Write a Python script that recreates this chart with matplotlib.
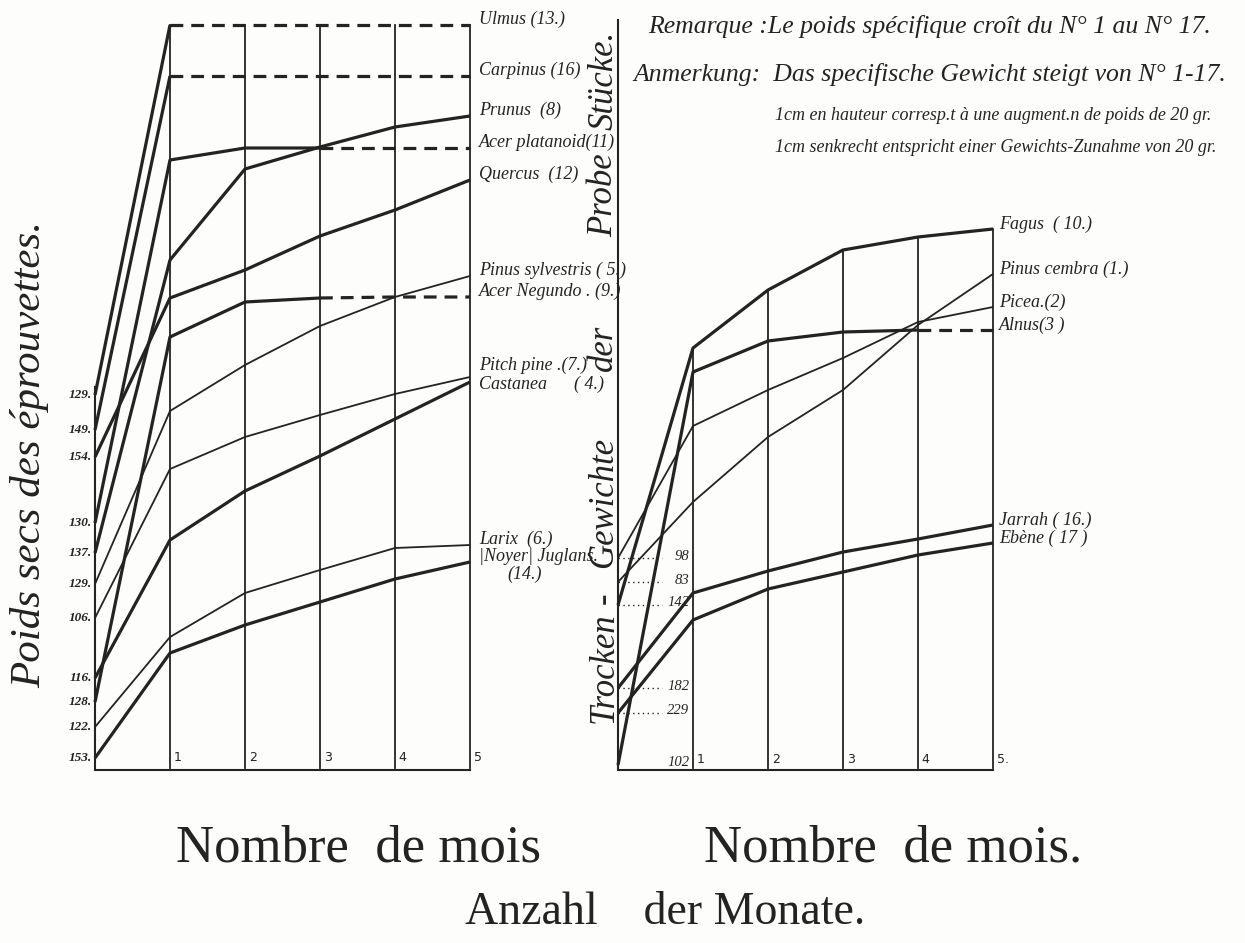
import numpy as np
import matplotlib.pyplot as plt

# months on the x axis (0 = start of the test)
months = [0, 1, 2, 3, 4, 5]

# left chart: height of each curve above the base line (1 unit = 1 px of the original plate)
left_names = ['Ulmus (13.)', 'Carpinus (16)', 'Acer platanoid(11)', 'Prunus  (8)', 'Quercus  (12)',
              'Pinus sylvestris ( 5.)', 'Acer Negundo . (9.)', 'Pitch pine .(7.)', 'Castanea      ( 4.)',
              'Larix  (6.)', '|Noyer| Juglans.']
left_values = [
    [373, 743, 743, 743, 743, 743],
    [338, 692, 692, 692, 692, 692],
    [245, 608, 620, 620, 620, 620],
    [215, 508, 599, 621, 641, 652],
    [311, 470, 498, 532, 558, 588],
    [184, 357, 403, 442, 471, 492],
    [66, 431, 466, 470, 471, 471],
    [150, 299, 331, 353, 374, 391],
    [90, 228, 277, 312, 349, 386],
    [41, 131, 175, 198, 220, 223],
    [10, 115, 143, 166, 189, 206],
]
left_start = ['129.', '149.', '130.', '137.', '154.', '129.', '128.', '106.', '116.', '122.', '153.']
left_dash_from = [1, 1, 3, None, None, None, 3, None, None, None, None]
left_thick = [True, True, True, True, True, False, True, False, True, False, True]

# right chart
right_names = ['Fagus  ( 10.)', 'Pinus cembra (1.)', 'Picea.(2)', 'Alnus(3 )', 'Jarrah ( 16.)', 'Ebène ( 17 )']
right_values = [
    [163, 420, 478, 518, 531, 539],
    [186, 266, 331, 378, 443, 494],
    [210, 342, 378, 410, 446, 461],
    [3, 396, 427, 436, 438, 438],
    [80, 175, 197, 216, 229, 243],
    [55, 148, 179, 196, 213, 225],
]
right_start = ['142', '83', '98', '102', '182', '229']
right_dash_from = [None, None, None, 4, None, None]
right_thick = [True, False, False, True, True, True]

# words of the vertical title between the two charts, with the height of their centres
mid_words = ['Trocken', '-', 'Gewichte', 'der', 'Probe', 'Stücke.']
mid_heights = [100, 170, 266, 420, 573, 688]

INK = '#232323'
W, H = 1245, 943
fig = plt.figure(figsize=(12.45, 9.43), dpi=100)
fig.patch.set_facecolor('#fdfdfb')


def make_axes(x0, x1, ytop, ybot):
    ax = fig.add_axes([x0 / W, 1 - ybot / H, (x1 - x0) / W, (ybot - ytop) / H])
    ax.set_xlim(0, 5)
    ax.set_ylim(0, ybot - ytop)
    ax.axis('off')
    return ax


def draw_curve(ax, vals, dash_from, thick):
    lw = 2.3 if thick else 1.3
    end = len(months) if dash_from is None else dash_from + 1
    ax.plot(months[:end], vals[:end], color=INK, lw=lw, clip_on=False, solid_capstyle='butt')
    if dash_from is not None:
        ax.plot(months[dash_from:], vals[dash_from:], color=INK, lw=2.3, ls=(0, (4, 2.5)), clip_on=False)


def draw_grid(ax, values, top_of_axis):
    values = np.array(values)
    tops = values.max(axis=0)
    for m in months[1:]:
        ax.plot([m, m], [0, tops[m]], color=INK, lw=1.3, clip_on=False)
    ax.plot([0, 0], [0, top_of_axis], color=INK, lw=1.5, clip_on=False)
    ax.plot([0, 5], [-2, -2], color=INK, lw=1.5, clip_on=False)


italic = dict(family='Liberation Serif', style='italic', color=INK)

# ---- left chart
axl = make_axes(95, 470, 20, 768)
draw_grid(axl, left_values, max(v[0] for v in left_values) + 8)
for vals, dash, thick in zip(left_values, left_dash_from, left_thick):
    draw_curve(axl, vals, dash, thick)
for vals, lab in zip(left_values, left_start):
    axl.text(-0.04, vals[0], lab, ha='right', va='center', fontsize=9.5, fontweight='bold', **italic)
nudge = {7: 12, 8: -2}
for i, (vals, name) in enumerate(zip(left_values, left_names)):
    axl.text(5.12, vals[-1] + nudge.get(i, 6), name, ha='left', va='center', fontsize=13, **italic)
axl.text(5.5, left_values[-1][-1] - 12, '(14.)', ha='left', va='center', fontsize=13, **italic)
for m in months[1:]:
    axl.text(m + 0.05, 4, str(m), ha='left', va='bottom', fontsize=9, family='DejaVu Sans', color=INK)

# ---- right chart
axr = make_axes(618, 993, 20, 768)
draw_grid(axr, right_values, 748)
for vals, dash, thick in zip(right_values, right_dash_from, right_thick):
    draw_curve(axr, vals, dash, thick)
for vals, lab in zip(right_values, right_start):
    if lab != '102':
        axr.plot([0, 0.58], [vals[0], vals[0]], color=INK, lw=1.0, ls=(0, (1, 2.5)), clip_on=False)
    axr.text(0.95, vals[0] + 2, lab, ha='right', va='center', fontsize=10.5, **italic)
for vals, name in zip(right_values, right_names):
    axr.text(5.08, vals[-1] + 5, name, ha='left', va='center', fontsize=13, **italic)
for m in months[1:]:
    axr.text(m + 0.05, 2, str(m) + ('.' if m == 5 else ''), ha='left', va='bottom', fontsize=9,
             family='DejaVu Sans', color=INK)

# ---- axis titles and notes
fig.text(30 / W, 1 - 455 / H, 'Poids secs des éprouvettes.', rotation=90, ha='center', va='center',
         fontsize=31, **italic)
for word, h in zip(mid_words, mid_heights):
    axr.text(-0.19, h, word, rotation=90, ha='center', va='center', fontsize=25, **italic)

fig.text(358 / W, 1 - 848 / H, 'Nombre  de mois', ha='center', va='center', fontsize=38,
         family='Liberation Serif', color=INK)
fig.text(893 / W, 1 - 848 / H, 'Nombre  de mois.', ha='center', va='center', fontsize=38,
         family='Liberation Serif', color=INK)
fig.text(665 / W, 1 - 913 / H, 'Anzahl    der Monate.', ha='center', va='center', fontsize=33,
         family='Liberation Serif', color=INK)

fig.text(648 / W, 1 - 27 / H, 'Remarque :Le poids spécifique croît du N° 1 au N° 17.', ha='left',
         va='center', fontsize=18.5, **italic)
fig.text(633 / W, 1 - 75 / H, 'Anmerkung:  Das specifische Gewicht steigt von N° 1-17.', ha='left',
         va='center', fontsize=18.5, **italic)
fig.text(775 / W, 1 - 115 / H, '1cm en hauteur corresp.t à une augment.n de poids de 20 gr.', ha='left',
         va='center', fontsize=13, **italic)
fig.text(775 / W, 1 - 147 / H, '1cm senkrecht entspricht einer Gewichts-Zunahme von 20 gr.', ha='left',
         va='center', fontsize=13, **italic)

fig.savefig('out.png', dpi=100, facecolor=fig.get_facecolor())
